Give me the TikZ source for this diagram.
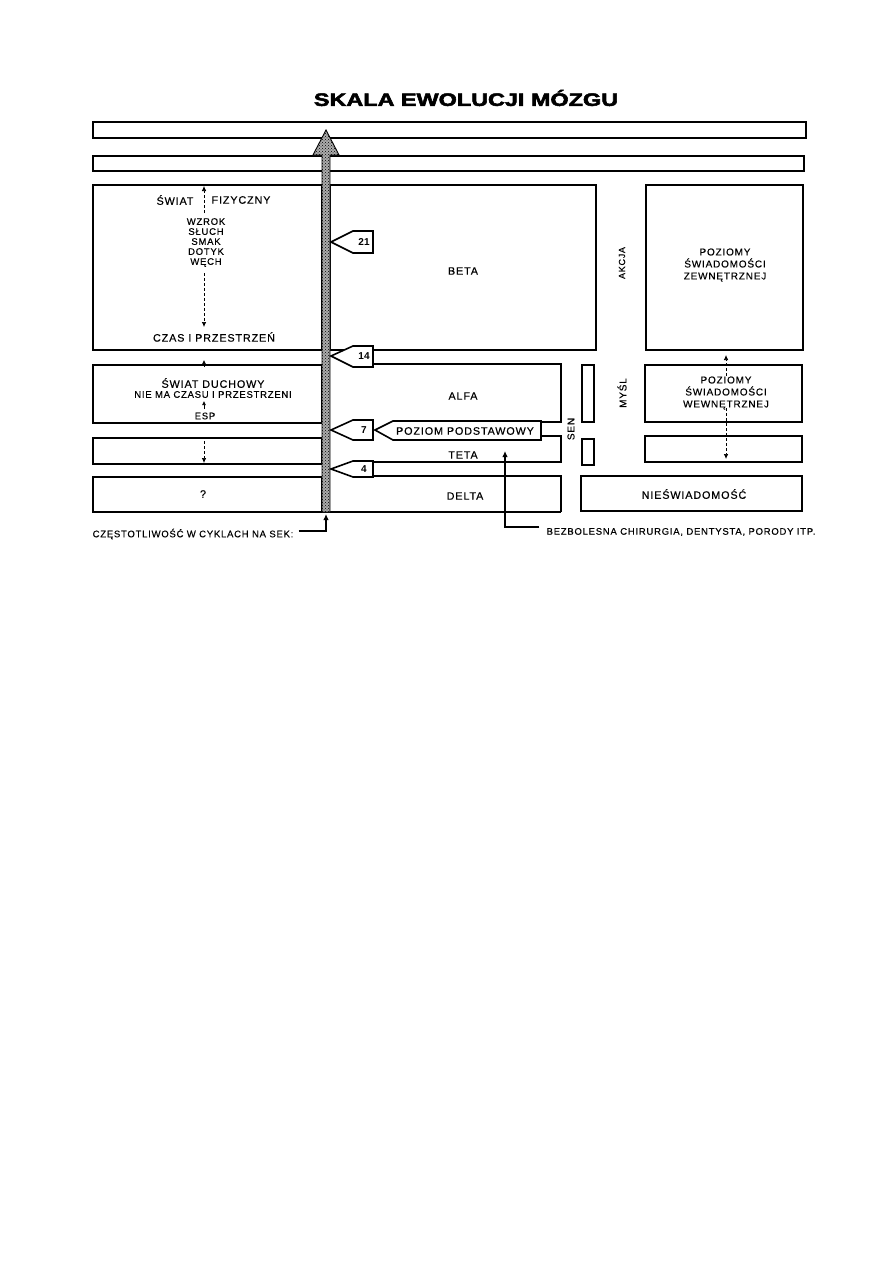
\documentclass[tikz,border=0pt]{standalone}
\usepackage{fontspec}
\setmainfont{Liberation Sans}
\newfontfamily\labf[LetterSpace=8,FakeBold=0.4]{Liberation Sans}
\newfontfamily\titlef[FakeBold=2.6]{Liberation Sans Bold}
\usetikzlibrary{arrows.meta,patterns}
\begin{document}
\begin{tikzpicture}[x=1pt,y=-1pt,
  box/.style={draw, line width=1.6pt, rectangle, inner sep=0pt, outer sep=0pt},
  lab/.style={font=\labf\fontsize{10.8}{12}\selectfont, inner sep=0pt, align=center},
  rot/.style={font=\labf\fontsize{10}{12}\selectfont, inner sep=0pt, rotate=90},
  small/.style={font=\labf\fontsize{9.5}{10}\selectfont, inner sep=0pt, align=center},
  smallb/.style={font=\labf\fontsize{10}{12}\selectfont, inner sep=0pt, align=center},
  tiny/.style={font=\labf\fontsize{9.5}{11}\selectfont, inner sep=0pt},
  tagshape/.style={draw, line width=1.6pt, fill=white, line join=miter},
  num/.style={font=\bfseries\fontsize{10}{11}\selectfont, inner sep=0pt},
  rim/.style={line width=1.6pt},
  dotarrow/.style={densely dashed, line width=0.7pt, -{Latex[length=5pt,width=4.5pt]}},
  arr/.style={line width=1.4pt, -{Latex[length=6pt,width=5.5pt]}}
]
\useasboundingbox (0,0) rectangle (893,1263);

% title
\node (title) at (466,98) {\scalebox{1.3}[1]{\titlef\fontsize{18}{20}\selectfont SKALA EWOLUCJI MÓZGU}};

% horizontal bars
\node[box, minimum width=713pt, minimum height=16pt] (bar1) at (449.5,130) {};
\node[box, minimum width=711pt, minimum height=15pt] (bar2) at (448.5,163.5) {};

% left column
\node[box, minimum width=229pt, minimum height=165pt] (fiz) at (207.5,267.5) {};
\node[box, minimum width=229pt, minimum height=58pt] (duch) at (207.5,394) {};
\node[box, minimum width=229pt, minimum height=26pt] (box3) at (207.5,451) {};
\node[box, minimum width=229pt, minimum height=35pt] (qbox) at (207.5,494.5) {};

% beta
\node[box, minimum width=266pt, minimum height=165pt] (beta) at (463,267.5) {};

% right column
\node[box, minimum width=157pt, minimum height=165pt] (zew) at (724.5,267.5) {};
\node[box, minimum width=12pt, minimum height=57pt] (sen1) at (588,393.5) {};
\node[box, minimum width=12pt, minimum height=26pt] (sen2) at (588,452) {};
\node[box, minimum width=157pt, minimum height=57pt] (wew) at (723.5,393.5) {};
\node[box, minimum width=157pt, minimum height=26pt] (box6) at (723.5,449) {};
\node[box, minimum width=221pt, minimum height=35pt] (nies) at (691.5,493.5) {};

% alfa / teta / delta outlines
\draw[rim] (373,364) -- (561,364) -- (561,422) -- (541,422);
\draw[rim] (541,436) -- (561,436) -- (561,462) -- (373,462);
\draw[rim] (373,476) -- (561,476) -- (561,512);
\draw[rim] (93,512) -- (561,512);

% frequency strip with arrow head
\draw[line width=0.9pt, fill=gray!65, line join=miter,
      postaction={pattern=crosshatch dots, pattern color=black}]
  (322,512) -- (322,155) -- (313,155) -- (326,130) -- (339,155) -- (330,155) -- (330,512) -- cycle;
\coordinate (sb) at (326,514);

% tags
\draw[tagshape] (331,242) -- (353,231) -- (373,231) -- (373,253) -- (353,253) -- cycle;
\node[num] (t21) at (364,242) {21};
\draw[tagshape] (331,356) -- (353,346) -- (373,346) -- (373,367) -- (353,367) -- cycle;
\node[num] (t14) at (364,356) {14};
\draw[tagshape] (331,430) -- (353,420) -- (373,420) -- (373,440) -- (353,440) -- cycle;
\node[num] (t7) at (364,430) {7};
\draw[tagshape] (331,469) -- (353,461) -- (373,461) -- (373,477) -- (353,477) -- cycle;
\node[num] (t4) at (364,469) {4};
\draw[tagshape] (375,430) -- (393,421) -- (541,421) -- (541,440) -- (393,440) -- cycle;
\node[lab] (podst) at (465,431) {POZIOM PODSTAWOWY};

% left column texts
\node[lab] (swiat) at (175,200) {ŚWIAT};
\node[lab] (fizyczny) at (241,200) {FIZYCZNY};
\node[small] (zmysly) at (206,242.5) {WZROK\\SŁUCH\\SMAK\\DOTYK\\WĘCH};
\node[lab] (czas) at (214,337) {CZAS I PRZESTRZEŃ};
\coordinate (fizTop) at (204,186);
\coordinate (fizA) at (204,213);
\coordinate (fizB) at (204,273);
\coordinate (fizC) at (204,327);
\draw[dotarrow] (fizA) -- (fizTop);
\draw[dotarrow] (fizB) -- (fizC);

\node[lab] (duchowy) at (213,383) {ŚWIAT DUCHOWY};
\node[tiny] (niema) at (213,394.5) {NIE MA CZASU I PRZESTRZENI};
\node[tiny] (esp) at (205,416) {ESP};
\coordinate (duA) at (204,367);
\coordinate (duB) at (204,360);
\draw[line width=0.7pt, -{Latex[length=4pt,width=4pt]}] (duA) -- (duB);
\coordinate (espA) at (204,409);
\coordinate (espB) at (204,401);
\draw[line width=0.7pt, -{Latex[length=4pt,width=4pt]}] (espA) -- (espB);
\coordinate (b3A) at (204,441);
\coordinate (b3B) at (204,463);
\draw[dotarrow] (b3A) -- (b3B);
\node[lab] (q) at (203,494) {?};

% middle texts
\node[lab] (betat) at (463,271) {BETA};
\node[lab] (alfat) at (463,396) {ALFA};
\node[lab] (tetat) at (463,455) {TETA};
\node[lab] (deltat) at (465,496) {DELTA};

% rotated labels
\node[rot, font=\labf\fontsize{9}{11}\selectfont] (akcja) at (622,263) {AKCJA};
\node[rot] (mysl) at (622,393) {MYŚL};
\node[rot] (sen) at (571,429) {SEN};

% right texts
\node[smallb] (zewt) at (725,265) {POZIOMY\\ŚWIADOMOŚCI\\ZEWNĘTRZNEJ};
\node[smallb] (wewt) at (726,393) {POZIOMY\\ŚWIADOMOŚCI\\WEWNĘTRZNEJ};
\node[lab] (niest) at (694,494) {NIEŚWIADOMOŚĆ};
\coordinate (wA) at (726,376);
\coordinate (wB) at (726,355);
\coordinate (wC) at (726,408);
\coordinate (wD) at (726,459);
\draw[dotarrow] (wA) -- (wB);
\draw[dotarrow] (wC) -- (wD);

% bottom annotations
\node[tiny] (freq) at (193,534) {CZĘSTOTLIWOŚĆ W CYKLACH NA SEK:};
\draw[arr] ([xshift=5pt,yshift=3pt]freq.east) -| (sb);
\node[tiny] (bez) at (681,532) {BEZBOLESNA CHIRURGIA, DENTYSTA, PORODY ITP.};
\coordinate (tt) at (505,451);
\draw[arr] ([xshift=-7pt,yshift=5pt]bez.west) -| (tt);
\end{tikzpicture}
\end{document}
